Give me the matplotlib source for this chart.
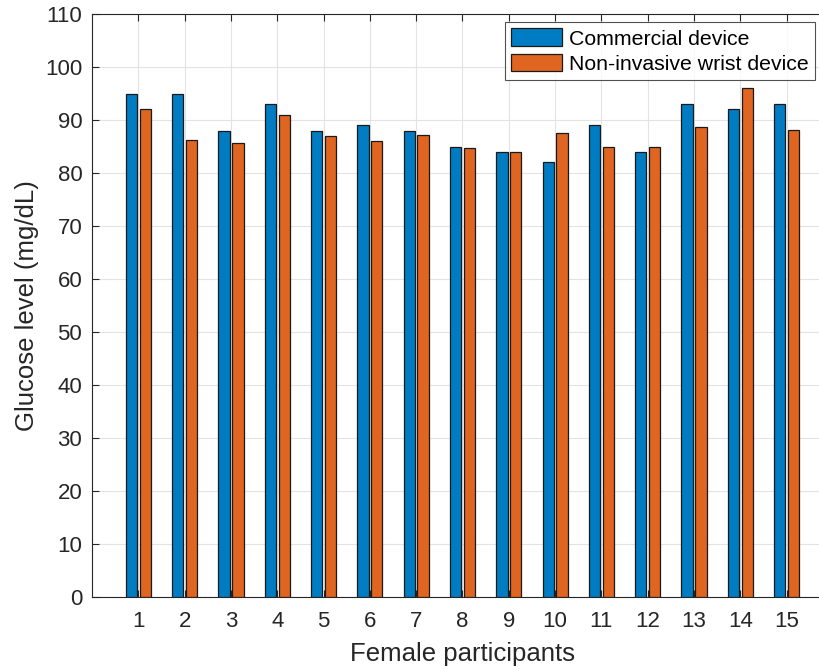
import numpy as np
import matplotlib
matplotlib.use("Agg")
import matplotlib.pyplot as plt

participants = list(range(1, 16))
commercial = [95, 95, 88, 93, 88, 89, 88, 85, 84, 82, 89, 84, 93, 92, 93]
wrist = [92.1, 86.3, 85.7, 91, 87, 86, 87.2, 84.8, 84, 87.6, 85, 85, 88.6, 96, 88.1]
series_names = ["Commercial device", "Non-invasive wrist device"]
y_ticks = list(range(0, 111, 10))

plt.rcParams['font.family'] = ['Liberation Sans', 'DejaVu Sans']

W, H = 820, 669
fig = plt.figure(figsize=(W / 100, H / 100), dpi=100)
# axes box runs slightly past the right edge of the canvas
left, right, top, bottom = 92, 833, 14, 597
ax = fig.add_axes([left / W, (H - bottom) / H, (right - left) / W, (bottom - top) / H])

x = np.array(participants, dtype=float)
w = 0.245
off = 0.15
ax.bar(x - off, commercial, width=w, color='#007CC2', edgecolor='#1a1a1a',
       linewidth=0.9, label=series_names[0], zorder=3)
ax.bar(x + off, wrist, width=w, color='#DF6520', edgecolor='#1a1a1a',
       linewidth=0.9, label=series_names[1], zorder=3)

ax.set_xlim(0, 16)
ax.set_ylim(0, 110)
ax.set_xticks(participants)
ax.set_yticks(y_ticks)
ax.tick_params(axis='both', direction='in', length=5, labelsize=16,
               colors='#262626', top=True, right=True, width=0.8)
ax.tick_params(axis='x', pad=10)
ax.tick_params(axis='y', pad=7)
ax.grid(True, color='#e3e3e3', linewidth=0.8, zorder=0)
ax.set_axisbelow(True)
for s in ax.spines.values():
    s.set_color('#262626')
    s.set_linewidth(0.8)

ax.set_xlabel("Female participants", fontsize=18.5, color='#262626', labelpad=7)
ax.set_ylabel("Glucose level (mg/dL)", fontsize=18.5, color='#262626', labelpad=4)

leg = ax.legend(loc='upper right', fontsize=15.3, frameon=True, fancybox=False,
                edgecolor='#262626', borderpad=0.3, labelspacing=0.25,
                handlelength=2.4, handleheight=0.9, handletextpad=0.3,
                bbox_to_anchor=(1 - 18 / (right - left), 1 - 8 / (bottom - top)),
                borderaxespad=0)
leg.get_frame().set_linewidth(0.8)

fig.savefig("out.png", dpi=100)
